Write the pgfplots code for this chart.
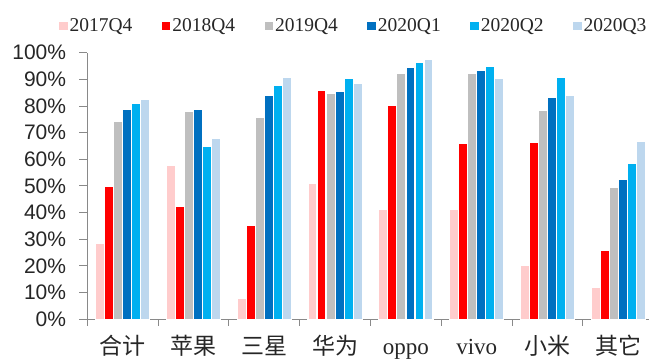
\documentclass[border=0pt]{standalone}
\usepackage{pgfplots}
\pgfplotsset{compat=1.18}
\usepackage{pgfplotstable}
\usepackage{fontspec}
\setmainfont{Liberation Serif}
\newfontfamily\sansf{Liberation Sans}
\newfontfamily\cjk{Noto Sans CJK SC}
\definecolor{cA}{HTML}{FFCCCC}
\definecolor{cB}{HTML}{FF0000}
\definecolor{cC}{HTML}{BFBFBF}
\definecolor{cD}{HTML}{0070C0}
\definecolor{cE}{HTML}{00B0F0}
\definecolor{cF}{HTML}{BDD7EE}
\definecolor{axgray}{HTML}{898989}
\definecolor{txt}{HTML}{262626}
\pgfplotstableread{
x a b c d e f
0 28.4 49.9 74.3 78.8 80.8 82.3
1 57.7 42.4 77.8 78.8 64.8 67.7
2 8.0 35.4 75.8 83.8 87.8 90.8
3 50.9 85.8 84.8 85.3 90.3 88.3
4 41.3 80.3 92.3 94.3 96.3 97.3
5 41.3 65.8 92.3 93.3 94.8 90.3
6 20.3 66.3 78.3 83.3 90.8 83.8
7 12.0 25.9 49.4 52.4 58.4 66.8
}\data
\begin{document}
\begin{tikzpicture}
\useasboundingbox (0,0) rectangle (649bp,360bp);
\clip (0,0) rectangle (649bp,360bp);
\begin{axis}[
  at={(87.3bp,40.7bp)}, anchor=south west,
  x=70.8bp, y=2.666bp,
  xmin=-0.5, xmax=7.5, ymin=0, ymax=100,
  axis x line*=bottom, axis y line*=left,
  axis line style={draw=axgray, line width=1bp, -},
  ybar=0pt, bar width=9.05bp,
  xtick={0,...,7},
  xticklabels={{\cjk 合计},{\cjk 苹果},{\cjk 三星},{\cjk 华为},oppo,vivo,{\cjk 小米},{\cjk 其它}},
  minor xtick={-0.5,0.5,...,7.5},
  major x tick style={draw=none},
  ytick={0,10,...,100},
  yticklabels={0\%,10\%,20\%,30\%,40\%,50\%,60\%,70\%,80\%,90\%,100\%},
  tick align=outside,
  major tick length=8bp, minor tick length=6.5bp,
  tick style={draw=axgray, line width=1bp},
  xticklabel style={font=\fontsize{23bp}{26bp}\selectfont, text=txt, anchor=base, inner sep=0pt, yshift=-27.5bp},
  yticklabel style={font=\sansf\fontsize{21bp}{24bp}\selectfont, text=txt, anchor=east, inner sep=0pt, xshift=-13bp},
  legend columns=6,
  legend style={draw=none, fill=none, at={(-0.0503,1.1016)}, anchor=west, inner sep=0pt,
    font=\fontsize{19.5bp}{22bp}\selectfont, text=txt,
    /tikz/every even column/.append style={column sep=27.5bp}},
  legend image code/.code={\path[#1,draw=none] (0bp,-4bp) rectangle (8.5bp,4bp);},
  every axis plot/.append style={draw=white, line width=1.2bp},
]
\addplot[fill=cA] table[x=x,y=a]{\data};
\addplot[fill=cB] table[x=x,y=b]{\data};
\addplot[fill=cC] table[x=x,y=c]{\data};
\addplot[fill=cD] table[x=x,y=d]{\data};
\addplot[fill=cE] table[x=x,y=e]{\data};
\addplot[fill=cF] table[x=x,y=f]{\data};
\legend{2017Q4,2018Q4,2019Q4,2020Q1,2020Q2,2020Q3}
\end{axis}
\end{tikzpicture}
\end{document}
